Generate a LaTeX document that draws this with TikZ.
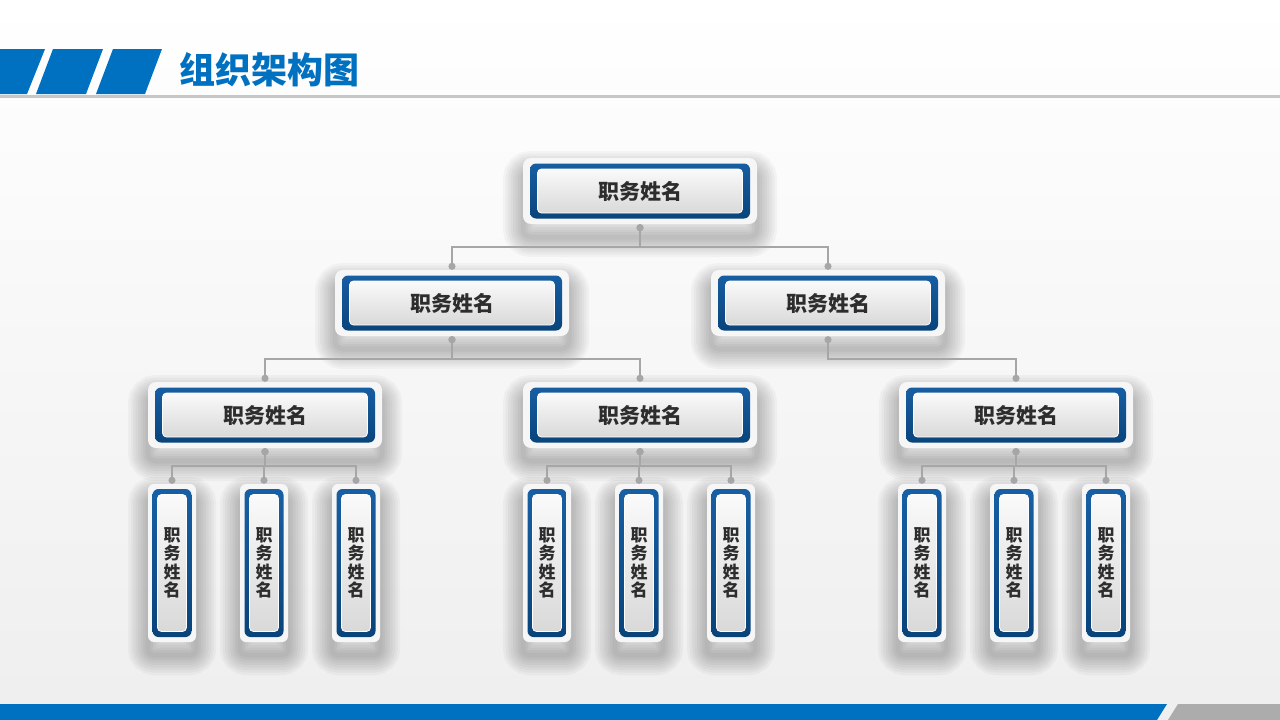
\documentclass[tikz,border=0pt]{standalone}
\usepackage{fontspec}
\newfontfamily\cjk{Noto Sans CJK SC}
\usetikzlibrary{arrows.meta}
\definecolor{fejkek}{RGB}{0,112,192}
\definecolor{keretfel}{RGB}{24,96,166}
\definecolor{keretle}{RGB}{8,66,120}
\definecolor{vonal}{RGB}{166,166,166}
\definecolor{felirat}{RGB}{45,45,45}
\definecolor{perem}{RGB}{246,246,246}
\tikzset{
  %egy arnyek-reteg: lefele tolt, atlatszo vastag vonal a doboz korul
  arnyek/.style={preaction={draw=black, draw opacity=0.033, line width=#1,
    transform canvas={yshift=-13pt}}},
  %#1,#2: a kek keret beljebb huzasa, #3,#4: a belso lap beljebb huzasa
  kartya/.style n args={4}{rounded corners=8pt, inner sep=0pt, fill=perem, text=felirat,
    arnyek=5pt, arnyek=10pt, arnyek=15pt, arnyek=20pt, arnyek=25pt, arnyek=30pt,
    arnyek=35pt, arnyek=40pt,
    path picture={
      \shade[top color=keretfel, bottom color=keretle, rounded corners=6pt]
        ([shift={(#1,#2)}]path picture bounding box.south west) rectangle
        ([shift={(-#1,-#2)}]path picture bounding box.north east);
      \shade[top color=gray!4, bottom color=gray!30, rounded corners=4pt, draw=white, line width=0.8pt]
        ([shift={(#3,#4)}]path picture bounding box.south west) rectangle
        ([shift={(-#3,-#4)}]path picture bounding box.north east);
    }},
  doboz/.style={kartya={7pt}{5.5pt}{14.5pt}{11pt}, minimum width=234pt, minimum height=66pt,
    font=\cjk\bfseries\fontsize{21}{23}\selectfont},
  lap/.style={kartya={4.5pt}{5pt}{9.5pt}{10.5pt}, rounded corners=6pt,
    minimum width=48pt, minimum height=158pt, align=center,
    font=\cjk\bfseries\fontsize{17}{18.5}\selectfont},
  kapocs/.style={draw=vonal, line width=1.8pt, {Circle[length=7pt]}-{Circle[length=7pt]}}
}
\begin{document}
\begin{tikzpicture}[x=1pt, y=-1pt]
    %Hatter es keret
    \fill[top color=white, bottom color=gray!13] (0,0) rectangle (1280,720);
    \fill[color=fejkek] (0,49) -- (45,49) -- (27,94) -- (0,94) -- cycle;
    \fill[color=fejkek] (53,49) -- (103,49) -- (86,94) -- (36,94) -- cycle;
    \fill[color=fejkek] (113,49) -- (162,49) -- (145,94) -- (96,94) -- cycle;
    \fill[color=gray!45] (0,95) rectangle (1280,98);
    \fill[color=fejkek] (0,704) -- (1167,704) -- (1157,720) -- (0,720) -- cycle;
    \fill[color=gray!65] (1178,704) -- (1280,704) -- (1280,720) -- (1168,720) -- cycle;
    \node[anchor=west, inner sep=0pt, text=fejkek, font=\cjk\bfseries\fontsize{36}{40}\selectfont] (cim) at (179,70) {组织架构图};
    %Dobozok szintenkent
    \node[doboz] (fo) at (640,191) {职务姓名};
    \node[doboz] (b1) at (452,303) {职务姓名};
    \node[doboz] (b2) at (828,303) {职务姓名};
    \node[doboz] (c1) at (265,415) {职务姓名};
    \node[doboz] (c2) at (640,415) {职务姓名};
    \node[doboz] (c3) at (1016,415) {职务姓名};
    \node[lap] (d1) at (172,563) {职\\务\\姓\\名};
    \node[lap] (d2) at (264,563) {职\\务\\姓\\名};
    \node[lap] (d3) at (356,563) {职\\务\\姓\\名};
    \node[lap] (d4) at (547,563) {职\\务\\姓\\名};
    \node[lap] (d5) at (639,563) {职\\务\\姓\\名};
    \node[lap] (d6) at (731,563) {职\\务\\姓\\名};
    \node[lap] (d7) at (922,563) {职\\务\\姓\\名};
    \node[lap] (d8) at (1014,563) {职\\务\\姓\\名};
    \node[lap] (d9) at (1106,563) {职\\务\\姓\\名};
    %Osszekoto vonalak, a pottyok a nyilhegyek
    \draw[kapocs] (fo.south) -- ++(0,23) -| (b1.north);
    \draw[kapocs] (fo.south) -- ++(0,23) -| (b2.north);
    \draw[kapocs] (b1.south) -- ++(0,23) -| (c1.north);
    \draw[kapocs] (b1.south) -- ++(0,23) -| (c2.north);
    \draw[kapocs] (b2.south) -- ++(0,23) -| (c3.north);
    \draw[kapocs] (c1.south) -- ++(0,18) -| (d1.north);
    \draw[kapocs] (c1.south) -- ++(0,18) -| (d2.north);
    \draw[kapocs] (c1.south) -- ++(0,18) -| (d3.north);
    \draw[kapocs] (c2.south) -- ++(0,18) -| (d4.north);
    \draw[kapocs] (c2.south) -- ++(0,18) -| (d5.north);
    \draw[kapocs] (c2.south) -- ++(0,18) -| (d6.north);
    \draw[kapocs] (c3.south) -- ++(0,18) -| (d7.north);
    \draw[kapocs] (c3.south) -- ++(0,18) -| (d8.north);
    \draw[kapocs] (c3.south) -- ++(0,18) -| (d9.north);
\end{tikzpicture}
\end{document}
